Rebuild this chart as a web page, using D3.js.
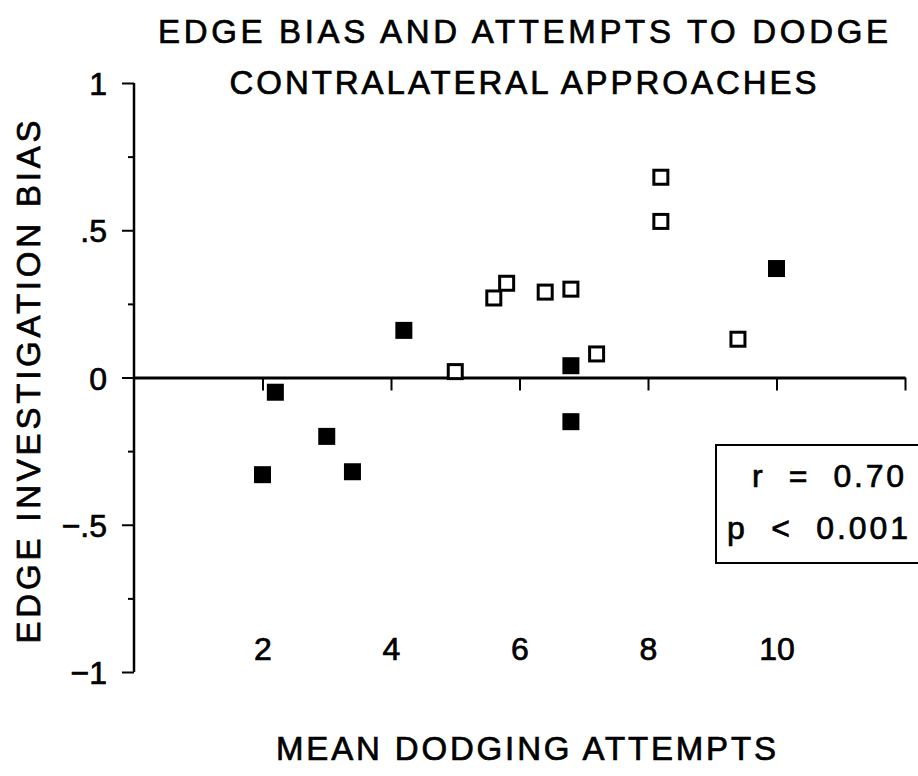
<!DOCTYPE html>
<html>
<head>
<meta charset="utf-8">
<script src="https://cdn.jsdelivr.net/npm/d3@7"></script>
<style>
  html, body { margin: 0; padding: 0; background: #fff; }
  svg { display: block; font-family: "Liberation Sans", Arial, sans-serif; }
  text { stroke: #000; stroke-width: 0.7px; fill: #000; }
</style>
</head>
<body>
<svg width="918" height="776"></svg>
<script>
// mean dodging attempts (x) and edge investigation bias (y)
const filledX = [2.0, 2.2, 3.0, 3.4, 4.2, 6.8, 6.8, 10.0];
const filledY = [-0.33, -0.05, -0.20, -0.32, 0.16, 0.04, -0.15, 0.37];
const openX = [5.0, 5.6, 5.8, 6.4, 6.8, 7.2, 8.2, 8.2, 9.4];
const openY = [0.02, 0.27, 0.32, 0.29, 0.30, 0.08, 0.68, 0.53, 0.13];

const xTicks = [2, 4, 6, 8, 10, 12];
const xTickLabels = [2, 4, 6, 8, 10];
const yTicks = [-1, -0.5, 0, 0.5, 1];
const yMinorTicks = [-0.75, -0.25, 0.25, 0.75];
const yTickLabels = ["\u22121", "\u2212.5", "0", ".5", "1"];

const titleLines = ["EDGE BIAS AND ATTEMPTS TO DODGE", "CONTRALATERAL APPROACHES"];
const statsLines = ["r  =  0.70", "p  <  0.001"];

const width = 918;
const height = 776;

const x = d3.scaleLinear().domain([0, 12]).range([134, 905]);
const y = d3.scaleLinear().domain([-1, 1]).range([672, 83]);

const svg = d3.select("svg");

// title
svg.append("g")
    .selectAll("text")
    .data(titleLines)
    .join("text")
    .attr("x", 523)
    .attr("y", (d, i) => 43 + i * 51)
    .attr("text-anchor", "middle")
    .attr("textLength", (d, i) => i === 0 ? 730 : 587)
    .attr("lengthAdjust", "spacing")
    .style("font-size", "33px")
    .text(d => d);

// y axis, major ticks with labels
const gy = svg.append("g")
    .attr("transform", `translate(${x(0)},0)`)
    .call(d3.axisLeft(y)
        .tickValues(yTicks)
        .tickSize(12)
        .tickPadding(15)
        .tickFormat((d, i) => yTickLabels[i]));
gy.select(".domain").attr("stroke-width", 2.5).attr("d", `M0,${y(-1)}V${y(1)}`);
gy.selectAll(".tick line").attr("stroke-width", 2);
gy.selectAll(".tick text")
    .attr("dy", "0.36em")
    .style("font-size", "32px")
    .style("font-family", "Liberation Sans, Arial, sans-serif");

// y axis minor ticks
const gyMinor = svg.append("g")
    .attr("transform", `translate(${x(0)},0)`)
    .call(d3.axisLeft(y).tickValues(yMinorTicks).tickSize(6).tickFormat(""));
gyMinor.select(".domain").remove();
gyMinor.selectAll(".tick line").attr("stroke-width", 2);

// zero line with ticks
const gx = svg.append("g")
    .attr("transform", `translate(0,${y(0)})`)
    .call(d3.axisBottom(x).tickValues(xTicks).tickSize(13).tickSizeOuter(0).tickFormat(""));
gx.select(".domain").attr("stroke-width", 3);
gx.selectAll(".tick line").attr("stroke-width", 2);

// x tick labels at the bottom
const gxLabels = svg.append("g")
    .attr("transform", `translate(0,${y(-1)})`)
    .call(d3.axisBottom(x).tickValues(xTickLabels).tickSize(0).tickPadding(0).tickFormat(d3.format("d")));
gxLabels.select(".domain").remove();
gxLabels.selectAll(".tick text")
    .attr("dy", null)
    .attr("y", -12)
    .style("font-size", "32px")
    .style("font-family", "Liberation Sans, Arial, sans-serif");

// axis titles
svg.append("text")
    .attr("x", 526)
    .attr("y", 760)
    .attr("text-anchor", "middle")
    .attr("textLength", 500)
    .attr("lengthAdjust", "spacing")
    .style("font-size", "33px")
    .text("MEAN DODGING ATTEMPTS");

svg.append("text")
    .attr("transform", "translate(40,382) rotate(-90)")
    .attr("text-anchor", "middle")
    .attr("textLength", 523)
    .attr("lengthAdjust", "spacing")
    .style("font-size", "33px")
    .text("EDGE INVESTIGATION BIAS");

// points
const size = 17;
svg.append("g")
    .selectAll("rect")
    .data(openX.map((v, i) => [v, openY[i]]))
    .join("rect")
    .attr("x", d => x(d[0]) - size / 2 + 1.5)
    .attr("y", d => y(d[1]) - size / 2 + 1.5)
    .attr("width", size - 3)
    .attr("height", size - 3)
    .attr("fill", "#fff")
    .attr("stroke", "#000")
    .attr("stroke-width", 3);

svg.append("g")
    .selectAll("rect")
    .data(filledX.map((v, i) => [v, filledY[i]]))
    .join("rect")
    .attr("x", d => x(d[0]) - size / 2)
    .attr("y", d => y(d[1]) - size / 2)
    .attr("width", size)
    .attr("height", size)
    .attr("fill", "#000");

// stats box
svg.append("rect")
    .attr("x", 716)
    .attr("y", 445)
    .attr("width", 230)
    .attr("height", 118)
    .attr("fill", "#fff")
    .attr("stroke", "#000")
    .attr("stroke-width", 2);

svg.append("g")
    .selectAll("text")
    .data(statsLines)
    .join("text")
    .attr("x", (d, i) => i === 0 ? 752 : 727)
    .attr("y", (d, i) => 487 + i * 52)
    .attr("textLength", (d, i) => i === 0 ? 152 : 181)
    .attr("lengthAdjust", "spacing")
    .style("font-size", "32px")
    .style("white-space", "pre")
    .text(d => d);
</script>
</body>
</html>
